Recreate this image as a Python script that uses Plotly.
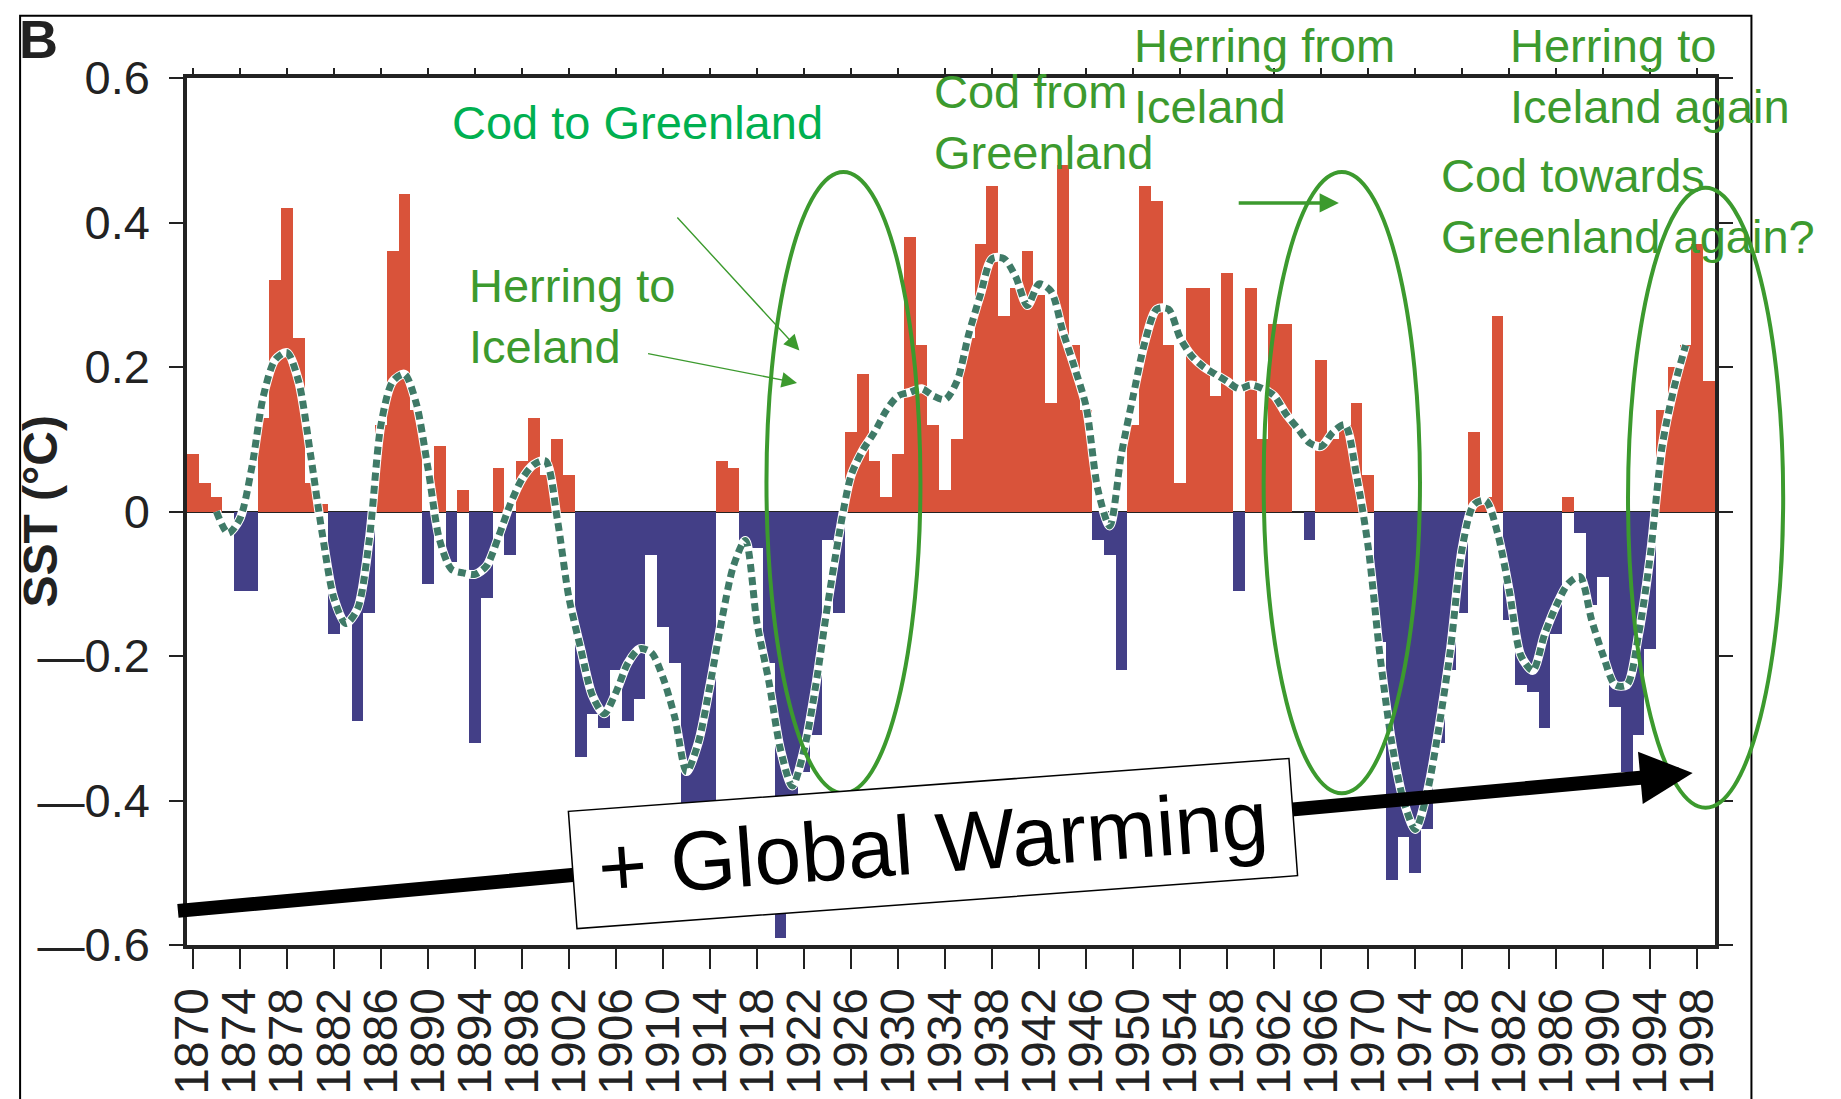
import plotly.graph_objects as go

# ---------------- data ----------------
years = list(range(1870, 2000))
sst = [
    0.08, 0.04, 0.02, 0.00, -0.11, -0.11, 0.13, 0.32, 0.42, 0.24,      # 1870-1879
    0.04, 0.01, -0.17, -0.15, -0.29, -0.14, 0.12, 0.36, 0.44, 0.14,    # 1880-1889
    -0.10, 0.09, -0.07, 0.03, -0.32, -0.12, 0.06, -0.06, 0.07, 0.13,   # 1890-1899
    0.05, 0.10, 0.05, -0.34, -0.28, -0.30, -0.22, -0.29, -0.26, -0.06, # 1900-1909
    -0.16, -0.21, -0.42, -0.42, -0.41, 0.07, 0.06, -0.05, -0.05, -0.21,# 1910-1919
    -0.59, -0.42, -0.36, -0.31, -0.04, -0.14, 0.11, 0.19, 0.07, 0.02,  # 1920-1929
    0.08, 0.38, 0.23, 0.12, 0.03, 0.10, 0.24, 0.37, 0.45, 0.27,        # 1930-1939
    0.31, 0.36, 0.30, 0.15, 0.48, 0.23, 0.14, -0.04, -0.06, -0.22,     # 1940-1949
    0.12, 0.45, 0.43, 0.23, 0.04, 0.31, 0.31, 0.16, 0.33, -0.11,       # 1950-1959
    0.31, 0.10, 0.26, 0.26, 0.00, -0.04, 0.21, 0.10, 0.12, 0.15,       # 1960-1969
    0.05, -0.18, -0.51, -0.45, -0.50, -0.44, -0.32, -0.22, -0.14, 0.11,# 1970-1979
    0.02, 0.27, -0.15, -0.24, -0.25, -0.30, -0.17, 0.02, -0.03, -0.13, # 1980-1989
    -0.09, -0.27, -0.36, -0.31, -0.19, 0.14, 0.20, 0.23, 0.37, 0.18,   # 1990-1999
]

smooth_years = list(range(1872, 1998))
smooth_vals = [
    0.00, -0.03, -0.01, 0.06, 0.16, 0.21, 0.22, 0.18, 0.08, -0.03,         # 1872-1881
    -0.12, -0.155, -0.135, -0.04, 0.12, 0.18, 0.19, 0.15, 0.06, -0.04,     # 1882-1891
    -0.08, -0.085, -0.087, -0.075, -0.035, 0.01, 0.045, 0.065, 0.07, -0.01,# 1892-1901
    -0.12, -0.19, -0.255, -0.28, -0.25, -0.21, -0.19, -0.195, -0.23, -0.285,# 1902-1911
    -0.36, -0.32, -0.24, -0.15, -0.075, -0.04, -0.155, -0.235, -0.33, -0.38,# 1912-1921
    -0.33, -0.24, -0.13, -0.03, 0.05, 0.085, 0.11, 0.14, 0.16, 0.165,      # 1922-1931
    0.17, 0.16, 0.155, 0.18, 0.245, 0.30, 0.35, 0.35, 0.325, 0.285,        # 1932-1941
    0.315, 0.305, 0.25, 0.20, 0.145, 0.03, -0.02, 0.08, 0.16, 0.235,       # 1942-1951
    0.28, 0.28, 0.24, 0.215, 0.20, 0.19, 0.18, 0.17, 0.175, 0.17,          # 1952-1961
    0.16, 0.135, 0.115, 0.095, 0.09, 0.11, 0.12, 0.05, -0.05, -0.20,       # 1962-1971
    -0.32, -0.40, -0.44, -0.39, -0.30, -0.19, -0.05, 0.01, 0.015, -0.03,   # 1972-1981
    -0.11, -0.20, -0.22, -0.17, -0.13, -0.10, -0.09, -0.15, -0.20, -0.24,  # 1982-1991
    -0.24, -0.17, -0.06, 0.09, 0.17, 0.23,                                 # 1992-1997
]

x_tick_vals = [1870, 1874, 1878, 1882, 1886, 1890, 1894, 1898, 1902, 1906, 1910,
               1914, 1918, 1922, 1926, 1930, 1934, 1938, 1942, 1946, 1950, 1954,
               1958, 1962, 1966, 1970, 1974, 1978, 1982, 1986, 1990, 1994, 1998]
x_tick_text = [str(v) for v in x_tick_vals]
y_tick_vals = [0.6, 0.4, 0.2, 0, -0.2, -0.4, -0.6]
y_tick_text = ["0.6", "0.4", "0.2", "0", "\u20140.2", "\u20140.4", "\u20140.6"]

# ---------------- styling ----------------
RED = "#D9533A"
BLUE = "#433F87"
DOT = "#3F7A67"
GREEN = "#3C9A2E"
GREEN2 = "#00B050"
FONT = "Liberation Sans, Arial, sans-serif"

XR = [1869.5, 1999.5]
YR = [-0.6, 0.6]


def px(year):
    return (year - XR[0]) / (XR[1] - XR[0])


def py(val):
    return (val - YR[0]) / (YR[1] - YR[0])


fig = go.Figure()
fig.add_trace(go.Bar(
    x=years, y=sst, width=1.0,
    marker=dict(color=[RED if v >= 0 else BLUE for v in sst], line=dict(width=0)),
    showlegend=False, hoverinfo="skip"))
fig.add_trace(go.Scatter(
    x=smooth_years, y=smooth_vals, mode="lines",
    line=dict(color="white", width=9, shape="spline", smoothing=0.8),
    showlegend=False, hoverinfo="skip"))
fig.add_trace(go.Scatter(
    x=smooth_years, y=smooth_vals, mode="lines",
    line=dict(color=DOT, width=7, dash="8px,5px", shape="spline", smoothing=0.8),
    showlegend=False, hoverinfo="skip"))
# invisible carrier so the top tick axis is drawn
fig.add_trace(go.Scatter(
    x=smooth_years, y=smooth_vals, mode="lines", xaxis="x2", opacity=0,
    line=dict(width=0), showlegend=False, hoverinfo="skip"))

shapes = []
# outer frame of the figure panel
shapes.append(dict(type="rect", xref="paper", yref="paper",
                   x0=px(1855.3), x1=px(2002.6), y0=py(-0.95), y1=py(0.686),
                   line=dict(color="black", width=2), fillcolor="rgba(0,0,0,0)", layer="above"))
# ellipses
for (xa, xb, ya, yb) in [(1918.8, 1931.9, -0.39, 0.47),
                         (1961.1, 1974.4, -0.39, 0.47),
                         (1992.1, 2005.3, -0.41, 0.448)]:
    shapes.append(dict(type="circle", xref="paper", yref="paper",
                       x0=px(xa), x1=px(xb), y0=py(ya), y1=py(yb),
                       line=dict(color=GREEN, width=4), fillcolor="rgba(0,0,0,0)", layer="above"))

ann = []
# thin arrows
ann.append(dict(x=1921.6, y=0.223, ax=1911.1, ay=0.409, xref="x", yref="y", axref="x", ayref="y",
                text="", showarrow=True, arrowhead=2, arrowsize=2.2, arrowwidth=1.4, arrowcolor=GREEN))
ann.append(dict(x=1921.4, y=0.178, ax=1908.6, ay=0.219, xref="x", yref="y", axref="x", ayref="y",
                text="", showarrow=True, arrowhead=2, arrowsize=2.2, arrowwidth=1.4, arrowcolor=GREEN))
# thick green arrow
ann.append(dict(x=1967.5, y=0.427, ax=1958.85, ay=0.427, xref="x", yref="y", axref="x", ayref="y",
                text="", showarrow=True, arrowhead=2, arrowsize=1.1, arrowwidth=3.5, arrowcolor=GREEN))
# big black arrow
ann.append(dict(x=1997.6, y=-0.362, ax=1868.6, ay=-0.553, xref="x", yref="y", axref="x", ayref="y",
                text="", showarrow=True, arrowhead=2, arrowsize=0.75, arrowwidth=14, arrowcolor="black"))
# Global warming box
ann.append(dict(x=px(1933.0), y=py(-0.46), xref="paper", yref="paper", showarrow=False,
                text="+ Global Warming", textangle=-4.2,
                font=dict(family=FONT, size=84, color="black"),
                bgcolor="white", bordercolor="black", borderwidth=1.5, borderpad=8,
                width=705, height=100, xanchor="center", yanchor="middle"))

# green texts
texts = [
    ("Cod to Greenland", 1891.9, 0.539, GREEN2),
    ("Herring to<br>Iceland", 1893.3, 0.27, GREEN),
    ("Cod from<br>Greenland", 1932.9, 0.539, GREEN),
    ("Herring from<br>Iceland", 1949.9, 0.603, GREEN),
    ("Herring to<br>Iceland again", 1981.9, 0.603, GREEN),
    ("Cod towards<br>Greenland again?", 1976.0, 0.423, GREEN),
]
for t, xv, yv, col in texts:
    ann.append(dict(x=px(xv), y=py(yv), xref="paper", yref="paper", showarrow=False,
                    text=t, align="left", xanchor="left", yanchor="middle",
                    font=dict(family=FONT, size=47, color=col)))

# panel letter and y title
ann.append(dict(x=px(1856.9), y=py(0.654), xref="paper", yref="paper", showarrow=False,
                text="<b>B</b>", font=dict(family=FONT, size=54, color="#222"),
                xanchor="center", yanchor="middle"))
ann.append(dict(x=px(1857.0), y=py(0.0), xref="paper", yref="paper", showarrow=False,
                text="<b>SST (°C)</b>", textangle=-90, font=dict(family=FONT, size=48, color="#222"),
                xanchor="center", yanchor="middle"))

fig.update_layout(
    width=1841, height=1099,
    margin=dict(l=179, r=134, t=70, b=159),
    paper_bgcolor="white", plot_bgcolor="white",
    bargap=0, showlegend=False,
    font=dict(family=FONT, color="#222"),
    shapes=shapes, annotations=ann,
    xaxis=dict(range=XR, tickmode="array", tickvals=x_tick_vals, ticktext=x_tick_text,
               tickangle=-90, ticks="outside", ticklen=20, tickwidth=2, tickcolor="#222",
               showline=True, linecolor="#222", linewidth=3.5, mirror=True,
               showgrid=False, zeroline=False, tickfont=dict(family=FONT, size=48, color="#222")),
    xaxis2=dict(range=XR, overlaying="x", side="top", tickmode="array", tickvals=x_tick_vals,
                ticks="outside", ticklen=9, tickwidth=2, tickcolor="#222",
                showticklabels=False, showline=False, showgrid=False, zeroline=False),
    yaxis=dict(range=YR, tickmode="array", tickvals=y_tick_vals, ticktext=y_tick_text,
               ticks="outside", ticklen=14, tickwidth=2, tickcolor="#222",
               showline=True, linecolor="#222", linewidth=3.5, mirror="ticks",
               ticklabelstandoff=10,
               showgrid=False, zeroline=True, zerolinecolor="#222", zerolinewidth=2,
               tickfont=dict(family=FONT, size=47, color="#222")),
)

fig.write_html("out.html")
